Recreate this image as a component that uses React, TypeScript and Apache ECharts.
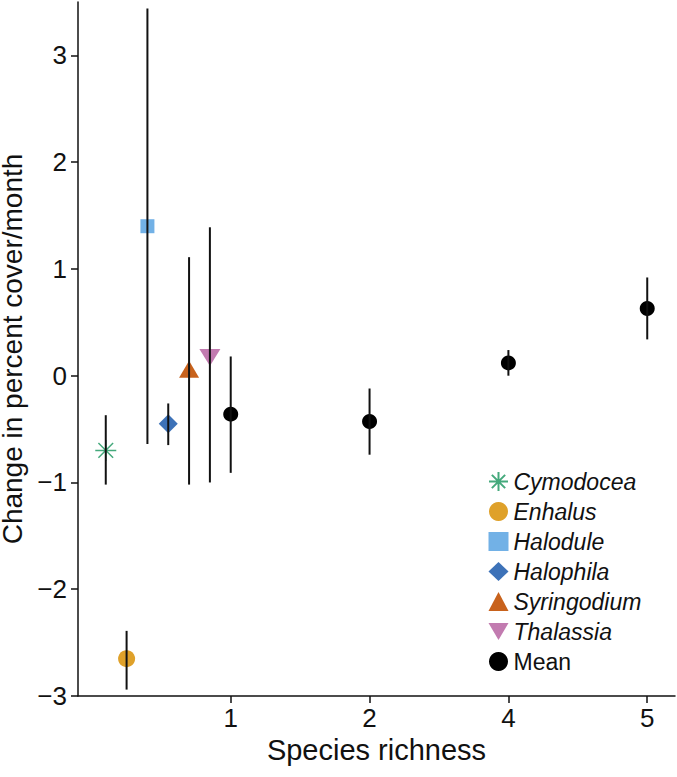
import React, { useEffect, useRef } from "react";
import * as echarts from "echarts";

// X axis: richness categories placed at evenly spaced positions
const richnessLabels = ["1", "2", "4", "5"];
const richnessPositions = [1, 2, 3, 4];

// Individual species (richness 1, offset horizontally)
const speciesNames = ["Cymodocea", "Enhalus", "Halodule", "Halophila", "Syringodium", "Thalassia"];
const speciesX = [0.1, 0.25, 0.4, 0.55, 0.7, 0.85];
const speciesMean = [-0.7, -2.65, 1.4, -0.45, 0.06, 0.17];
const speciesLow = [-1.02, -2.94, -0.64, -0.65, -1.02, -1.0];
const speciesHigh = [-0.37, -2.39, 3.44, -0.26, 1.11, 1.39];
const speciesColors = ["#45a97c", "#dfa12a", "#72b1e6", "#3d72b8", "#c8621c", "#c27bb0"];

// Mean over richness levels
const meanValues = [-0.36, -0.43, 0.12, 0.63];
const meanLow = [-0.91, -0.74, 0.0, 0.34];
const meanHigh = [0.18, -0.12, 0.24, 0.92];

const yTicks = [-3, -2, -1, 0, 1, 2, 3];

const FONT = "Liberation Sans, Arial, Helvetica, sans-serif";

const asteriskPath = "path://M10,0 L10,20 M0,10 L20,10 M3,3 L17,17 M3,17 L17,3";
const downTrianglePath = "path://M0,0 L20,0 L10,17 Z";

export default function App() {
  const ref = useRef<HTMLDivElement>(null);
  useEffect(() => {
    if (!ref.current) return;
    const chart = echarts.init(ref.current, null, { renderer: "svg" });

    const symbols: any[] = [asteriskPath, "circle", "rect", "diamond", "triangle", downTrianglePath];
    const sizes: any[] = [[21, 21], 17, 14, [19, 19], [20, 17], [21, 17]];

    const speciesSeries = speciesNames.map((name, i) => ({
      type: "scatter",
      name,
      data: [[speciesX[i], speciesMean[i]]],
      symbol: symbols[i],
      symbolSize: sizes[i],
      z: 2,
      itemStyle:
        i === 0
          ? { color: "rgba(0,0,0,0)", borderColor: speciesColors[i], borderWidth: 1.5, opacity: 1 }
          : { color: speciesColors[i], opacity: 1 },
    }));

    const errData: number[][] = [];
    speciesNames.forEach((_, i) => errData.push([speciesX[i], speciesLow[i], speciesHigh[i]]));
    richnessPositions.forEach((p, i) => errData.push([p, meanLow[i], meanHigh[i]]));

    const option: any = {
      animation: false,
      grid: { left: 78, right: 2, top: 2, bottom: 81, containLabel: false, outerBoundsMode: "none" },
      xAxis: {
        type: "value",
        min: -0.1,
        max: 4.2,
        name: "Species richness",
        nameLocation: "middle",
        nameGap: 38,
        nameTextStyle: { fontSize: 29, color: "#111", fontFamily: FONT },
        axisLine: { show: true, onZero: false, lineStyle: { color: "#111", width: 1.5 } },
        axisTick: { show: true, length: 7, customValues: richnessPositions, lineStyle: { color: "#111", width: 1.5 } },
        axisLabel: {
          customValues: richnessPositions,
          margin: 9,
          fontSize: 26,
          color: "#111",
          fontFamily: FONT,
          formatter: (v: number) => {
            const idx = richnessPositions.indexOf(Math.round(v));
            return idx >= 0 ? richnessLabels[idx] : "";
          },
        },
        splitLine: { show: false },
      },
      yAxis: {
        type: "value",
        min: -3,
        max: 3.5,
        name: "Change in percent cover/month",
        nameLocation: "middle",
        nameRotate: 90,
        nameGap: 40,
        nameTextStyle: { fontSize: 28, color: "#111", fontFamily: FONT },
        axisLine: { show: true, onZero: false, lineStyle: { color: "#111", width: 1.5 } },
        axisTick: { show: true, length: 7, customValues: yTicks, lineStyle: { color: "#111", width: 1.5 } },
        axisLabel: {
          customValues: yTicks,
          margin: 11,
          fontSize: 26,
          color: "#111",
          fontFamily: FONT,
          formatter: (v: number) => (v < 0 ? "\u2212" + Math.abs(v) : String(v)),
        },
        splitLine: { show: false },
      },
      legend: {
        orient: "vertical",
        left: 483,
        top: 465,
        itemWidth: 20,
        itemHeight: 19,
        itemGap: 7,
        data: [...speciesNames, "Mean"],
        formatter: (name: string) => (name === "Mean" ? `{n|${name}}` : `{i|${name}}`),
        textStyle: {
          fontSize: 23,
          color: "#111",
          fontFamily: FONT,
          rich: {
            i: { fontStyle: "italic", fontSize: 23, fontFamily: FONT, color: "#111" },
            n: { fontSize: 23, fontFamily: FONT, color: "#111" },
          },
        },
      },
      series: [
        ...speciesSeries,
        {
          type: "scatter",
          name: "Mean",
          data: richnessPositions.map((p, i) => [p, meanValues[i]]),
          symbol: "circle",
          symbolSize: 15,
          z: 2,
          itemStyle: { color: "#000", opacity: 1 },
        },
        {
          type: "custom",
          name: "errorbars",
          z: 5,
          silent: true,
          data: errData,
          encode: { x: 0, y: [1, 2] },
          renderItem: (params: any, api: any) => {
            const x = api.value(0);
            const p1 = api.coord([x, api.value(1)]);
            const p2 = api.coord([x, api.value(2)]);
            return {
              type: "line",
              shape: { x1: p1[0], y1: p1[1], x2: p2[0], y2: p2[1] },
              style: { stroke: "#111", lineWidth: 2 },
            };
          },
        },
      ],
    };
    chart.setOption(option);
    return () => chart.dispose();
  }, []);

  return (
    <div
      ref={ref}
      style={{ position: "fixed", left: 0, top: 0, width: 677, height: 777, background: "#fff" }}
    />
  );
}
